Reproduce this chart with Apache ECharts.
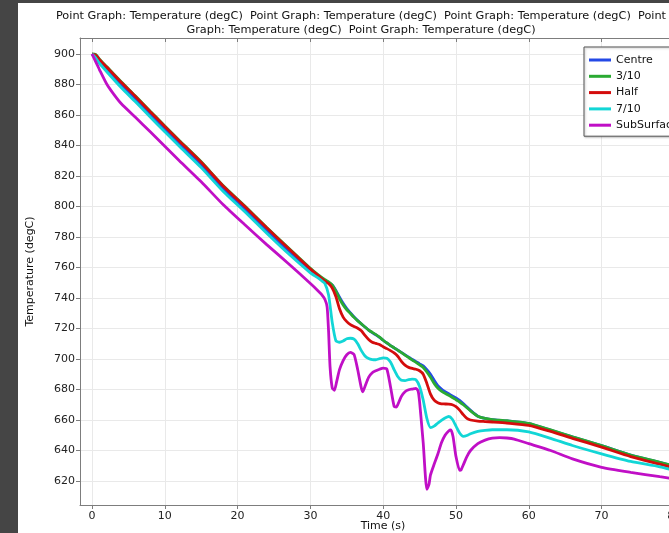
<!DOCTYPE html>
<html>
<head>
<meta charset="utf-8">
<script src="https://cdn.jsdelivr.net/npm/echarts@6/dist/echarts.min.js"></script>
<style>
html, body { margin: 0; padding: 0; background: #454545; width: 669px; height: 533px; overflow: hidden; }
#chart { position: absolute; left: 18px; top: 3px; width: 668px; height: 530px; background: #ffffff; }
</style>
</head>
<body>
<div id="chart"></div>
<script>
// Cooling curves at five probe points: [time (s), temperature (degC)]
const centre = [[0,900],[0.5,898.8],[1,895.5],[2,890],[4,880],[6,870.5],[8,860.7],[10,851],[12,841.5],[15,827.5],[18,812],[21,798.5],[24,784.5],[27,771],[30,758.5],[31,754.8],[32,751.5],[32.5,750.2],[33,748.5],[33.5,745],[34,740.5],[34.5,736.5],[35,733],[35.5,730.2],[36,727.5],[36.5,725.2],[37,723],[37.5,721],[38,719],[38.5,717.3],[39,715.8],[39.5,714.2],[40,712.3],[40.5,710.5],[41,708.8],[41.5,707.3],[42,705.8],[42.5,704.3],[43,702.7],[43.5,701.2],[44,699.7],[44.5,698.3],[45,696.8],[45.5,695.5],[46,693],[46.5,690],[47,686],[47.5,682.5],[48,680.3],[48.5,678.6],[49,677.2],[49.5,675.8],[50,674.4],[50.5,672.8],[51,670.8],[51.5,668.5],[52,666.3],[53,662.5],[54,661],[55,660.2],[57,659.4],[60,657.7],[63,653.4],[66,648.9],[70,643.2],[74,637],[78,632.2],[82,627.2]];
const threeTenths = [[0,900],[0.5,899.7],[1,896.8],[2,891.8],[4,881.8],[6,872.3],[8,862.5],[10,852.8],[12,843.3],[15,829.3],[18,813.8],[21,800.3],[24,786.3],[27,772.8],[30,759.5],[31,755.5],[32,752],[32.5,750.5],[33,748.5],[33.5,744.5],[34,739.5],[34.5,735.5],[35,732.3],[35.5,729.8],[36,727.3],[36.5,725],[37,723],[37.5,721],[38,719],[38.5,717.5],[39,716],[39.5,714.3],[40,712.3],[40.5,710.5],[41,708.8],[41.5,707.3],[42,705.8],[42.5,704.2],[43,702.5],[43.5,701],[44,699.3],[44.5,697.8],[45,696.2],[45.5,694.5],[46,691.5],[46.5,688],[47,684],[47.5,681],[48,679],[48.5,677.5],[49,676.2],[49.5,674.8],[50,673.3],[50.5,671.8],[51,670],[51.5,668],[52,666],[53,662.5],[54,661],[55,660.3],[57,659.5],[60,657.8],[63,653.5],[66,649],[70,643.3],[74,637],[78,632.3],[82,627.3]];
const half = [[0,900],[0.5,899.3],[1,896.5],[2,891.5],[4,881.5],[6,872],[8,862.2],[10,852.5],[12,843],[15,829],[18,813.5],[21,800],[24,786],[27,772.5],[30,759],[31,755],[32,751],[32.5,749.5],[33,746.5],[33.5,741],[34,733],[34.5,727.5],[35,724.5],[35.5,722.5],[36,721.3],[36.5,720.2],[37,718.5],[37.5,715.5],[38,712.8],[38.5,711],[39,710.2],[39.5,709.5],[40,708],[40.5,706.8],[41,705.5],[41.5,704],[42,701.8],[42.5,698.5],[43,696],[43.5,694.5],[44,693.8],[44.5,693.3],[45,692.3],[45.5,690],[46,684],[46.5,677],[47,673],[47.5,671.3],[48,670.6],[48.5,670.5],[49,670.4],[49.5,670],[50,668.8],[50.5,666.5],[51,663.5],[51.5,661],[52,660],[53,659.3],[54,659],[55,658.7],[57,658],[60,656.5],[63,652.5],[66,648],[70,642.2],[74,636],[78,631],[82,626]];
const sevenTenths = [[0,900],[0.5,897.5],[1,894],[2,888.5],[4,878],[6,868.5],[8,858.7],[10,849],[12,839.5],[15,825.5],[18,810],[21,796.5],[24,782.5],[27,769],[30,756.5],[31,753.3],[31.5,751.5],[32,749.5],[32.5,742],[33,724],[33.5,712],[34,711],[34.5,711.8],[35,713.3],[35.5,713.6],[36,713],[36.5,710],[37,705.5],[37.5,702],[38,700.3],[38.5,699.6],[39,699.5],[39.5,700.2],[40,700.8],[40.5,700.5],[41,698],[41.5,693],[42,688.5],[42.5,686],[43,685.8],[43.5,686.5],[44,686.8],[44.5,686.4],[45,682],[45.5,673],[46,661],[46.5,655],[47,656],[47.5,658],[48,659.8],[48.5,661.3],[49,662.3],[49.5,660.5],[50,656],[50.5,651.5],[51,649.3],[51.5,649.8],[52,651],[53,652.5],[54,653.2],[55,653.6],[57,653.6],[60,652.2],[63,648],[66,643.3],[70,637.8],[74,632.8],[78,629.3],[82,624.5]];
const subSurface = [[0,900],[0.5,895],[1,890],[2,880.5],[3,873.5],[4,867.5],[6,858.3],[8,849],[10,839.5],[12,830],[15,816.2],[18,801.3],[21,788],[24,775],[27,762.5],[30,749.5],[31,745],[31.5,742.5],[32,739],[32.3,734],[32.5,718],[32.7,695],[33,681],[33.3,679.5],[33.6,685],[34,693],[34.5,699],[35,702.8],[35.5,704.3],[36,703],[36.5,693],[37,681],[37.2,678.5],[37.5,682],[38,688],[38.5,691],[39,692.3],[39.5,693.3],[40,694],[40.5,693.5],[41,682],[41.5,669],[41.8,668.5],[42,670],[42.5,675.5],[43,678.5],[43.5,679.8],[44,680.3],[44.5,680.8],[44.8,679],[45,672],[45.5,645],[46,614.5],[46.3,618],[46.5,624],[47,631],[47.5,637.5],[48,645],[48.5,650],[49,652.8],[49.3,653.5],[49.6,649],[50,636],[50.5,627],[50.7,627.3],[51,630.5],[51.5,636],[52,640],[53,644.5],[54,646.8],[55,648.1],[56,648.5],[57,648.2],[58,647.5],[60,644.5],[63,640],[66,634.5],[70,629],[74,625.7],[78,622.8],[82,620]];

const seriesNames = ['Centre', '3/10', 'Half', '7/10', 'SubSurfac'];
const seriesColors = ['#2449e6', '#2aaa32', '#d40c0c', '#12d6d6', '#c00fc6'];
const seriesData = [centre, threeTenths, half, sevenTenths, subSurface];

const xTicks = [0, 10, 20, 30, 40, 50, 60, 70, 80];
const yTicks = [620, 640, 660, 680, 700, 720, 740, 760, 780, 800, 820, 840, 860, 880, 900];

const titleLines = [
  'Point Graph: Temperature (degC)  Point Graph: Temperature (degC)  Point Graph: Temperature (degC)  Point',
  'Graph: Temperature (degC)  Point Graph: Temperature (degC)'
];

const FONT = 'DejaVu Sans';
const chart = echarts.init(document.getElementById('chart'), null, { renderer: 'canvas' });

const axisGray = '#7d7d7d';
const gridGray = '#e9e9e9';

chart.setOption({
  animation: false,
  backgroundColor: '#ffffff',
  textStyle: { fontFamily: FONT },
  graphic: titleLines.map((t, i) => ({
    type: 'text',
    x: 343,
    y: 8 + i * 14,
    style: { text: t, fill: '#111', font: '11.3px "DejaVu Sans"', textAlign: 'center' }
  })),
  grid: { left: 62, top: 35, right: 0, bottom: 28, containLabel: false, outerBoundsMode: 'none' },
  legend: {
    orient: 'vertical',
    left: 566,
    top: 44,
    padding: [5, 60, 3, 5],
    itemWidth: 22,
    itemHeight: 3,
    itemGap: 0.3,
    icon: 'rect',
    backgroundColor: '#ffffff',
    borderColor: '#555',
    borderWidth: 1,
    shadowColor: 'rgba(0,0,0,0.25)',
    shadowBlur: 2,
    shadowOffsetX: 1,
    shadowOffsetY: 1,
    textStyle: { fontFamily: FONT, fontSize: 11, color: '#111', lineHeight: 16 },
    data: seriesNames
  },
  xAxis: [{
    type: 'value',
    min: -1.65,
    max: 81.6,
    name: 'Time (s)',
    nameLocation: 'middle',
    nameGap: 16,
    nameMoveOverlap: false,
    nameTextStyle: { fontFamily: FONT, fontSize: 11, color: '#111' },
    axisLine: { show: true, onZero: false, lineStyle: { color: axisGray, width: 1 } },
    axisTick: { show: true, inside: false, length: 4, customValues: xTicks, lineStyle: { color: axisGray } },
    axisLabel: { customValues: xTicks, fontFamily: FONT, fontSize: 11, color: '#222', margin: 6 },
    splitLine: { show: true, lineStyle: { color: gridGray, width: 1 } }
  }, {
    type: 'value',
    position: 'top',
    min: -1.65,
    max: 81.6,
    axisLine: { show: true, onZero: false, lineStyle: { color: axisGray, width: 1 } },
    axisTick: { show: true, inside: true, length: 4, customValues: xTicks, lineStyle: { color: axisGray } },
    axisLabel: { show: false },
    splitLine: { show: false }
  }],
  yAxis: {
    type: 'value',
    min: 604.26,
    max: 910.5,
    name: 'Temperature (degC)',
    nameLocation: 'middle',
    nameGap: 44,
    nameMoveOverlap: false,
    nameTextStyle: { fontFamily: FONT, fontSize: 11, color: '#111' },
    axisLine: { show: true, onZero: false, lineStyle: { color: axisGray, width: 1 } },
    axisTick: { show: true, inside: false, length: 4, customValues: yTicks, lineStyle: { color: axisGray } },
    axisLabel: { customValues: yTicks, fontFamily: FONT, fontSize: 11, color: '#222', margin: 5 },
    splitLine: { show: true, lineStyle: { color: gridGray, width: 1 } }
  },
  series: seriesNames.map((name, i) => ({
    name: name,
    type: 'line',
    xAxisIndex: 0,
    data: seriesData[i],
    showSymbol: false,
    symbol: 'none',
    smooth: 0.2,
    clip: true,
    lineStyle: { color: seriesColors[i], width: 2.8 },
    itemStyle: { color: seriesColors[i] },
    z: 2 + i
  }))
});
</script>
</body>
</html>
